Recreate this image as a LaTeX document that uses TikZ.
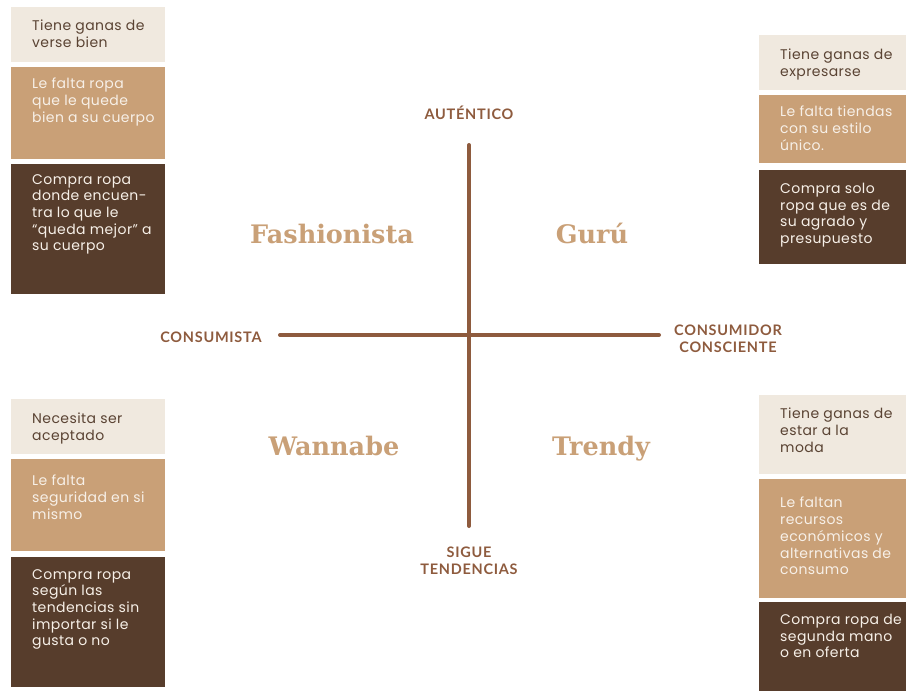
\documentclass[tikz,border=0pt]{standalone}
\usepackage{fontspec}
\setmainfont{Poppins}[LetterSpace=3]
\newfontfamily\axisfont{Lato}[LetterSpace=5]
\newfontfamily\titlefont{DejaVu Serif}
\usetikzlibrary{positioning}

\definecolor{cream}{HTML}{F0E9DF}
\definecolor{sand}{HTML}{C9A077}
\definecolor{cocoa}{HTML}{573D2C}
\definecolor{rust}{HTML}{8E5B3E}
\definecolor{inkdark}{HTML}{5A4333}
\definecolor{inklight}{HTML}{F7F0E8}

\tikzset{
  boxlight/.style={fill=cream},
  boxmid/.style={fill=sand},
  boxdark/.style={fill=cocoa},
  txtlight/.style={text=inkdark},
  txtmid/.style={text=inklight},
  txtdark/.style={text=inklight},
  boxtext/.style={inner sep=0pt, anchor=north west, align=left,
    font=\fontsize{14}{16.7}\selectfont},
  axislabel/.style={text=rust, align=center, inner sep=0pt,
    font=\axisfont\bfseries\fontsize{14.5}{16.5}\selectfont},
  typename/.style={text=sand, anchor=base, inner sep=0pt,
    font=\titlefont\bfseries\fontsize{25.5}{30}\selectfont},
  axisline/.style={draw=rust, line width=4pt, line cap=round}
}

% name, x, y, width, height, kind, text offset, text
\newcommand{\infobox}[8]{%
  \node[box#6, minimum width=#4pt, minimum height=#5pt, inner sep=0pt,
        anchor=north west] (#1) at (#2,#3) {};
  \node[boxtext, txt#6] (#1-t) at ([xshift=21pt,yshift=-#7pt]#1.north west) {#8};
}

\begin{document}
\begin{tikzpicture}[x=1pt,y=-1pt]
\useasboundingbox (0,0) rectangle (906,691);

% Fashionista
\infobox{fash1}{11}{7}{154}{55}{light}{13}{Tiene ganas de\\verse bien}
\infobox{fash2}{11}{67}{154}{92}{mid}{11}{Le falta ropa\\que le quede\\bien a su cuerpo}
\infobox{fash3}{11}{164}{154}{130}{dark}{10}{Compra ropa\\donde encuen-\\tra lo que le\\“queda mejor” a\\su cuerpo}

% Guru
\infobox{guru1}{759}{35}{147}{55}{light}{14}{Tiene ganas de\\expresarse}
\infobox{guru2}{759}{95}{147}{68}{mid}{11}{Le falta tiendas\\con su estilo\\único.}
\infobox{guru3}{759}{170}{147}{94}{dark}{13}{Compra solo\\ropa que es de\\su agrado y\\presupuesto}

% Wannabe
\infobox{wann1}{11}{399}{154}{55}{light}{14}{Necesita ser\\aceptado}
\infobox{wann2}{11}{459}{154}{92}{mid}{16}{Le falta\\seguridad en si\\mismo}
\infobox{wann3}{11}{557}{154}{130}{dark}{12}{Compra ropa\\según las\\tendencias sin\\importar si le\\gusta o no}

% Trendy
\infobox{tren1}{759}{395}{147}{79}{light}{13}{Tiene ganas de\\estar a la\\moda}
\infobox{tren2}{759}{479}{147}{119}{mid}{18}{Le faltan\\recursos\\económicos y\\alternativas de\\consumo}
\infobox{tren3}{759}{602}{147}{89}{dark}{12}{Compra ropa de\\segunda mano\\o en oferta}

% axes
\coordinate (top) at (469,145);
\coordinate (bottom) at (469,526);
\coordinate (left) at (280,335);
\coordinate (right) at (659,335);
\draw[axisline] (left) -- (right);
\draw[axisline] (top) -- (bottom);

\node[axislabel, anchor=base] (autentico) at (469,119) {AUTÉNTICO};
\node[axislabel, anchor=base] (consumista) at (211,342) {CONSUMISTA};
\node[axislabel, anchor=base] (consciente) at (728,352) {CONSUMIDOR\\CONSCIENTE};
\node[axislabel, anchor=base] (tendencias) at (469,574) {SIGUE\\TENDENCIAS};

% quadrants
\node[typename] (fashionista) at (332,243) {Fashionista};
\node[typename] (guru) at (592,243) {Gurú};
\node[typename] (wannabe) at (334,455) {Wannabe};
\node[typename] (trendy) at (601,455) {Trendy};
\end{tikzpicture}
\end{document}
